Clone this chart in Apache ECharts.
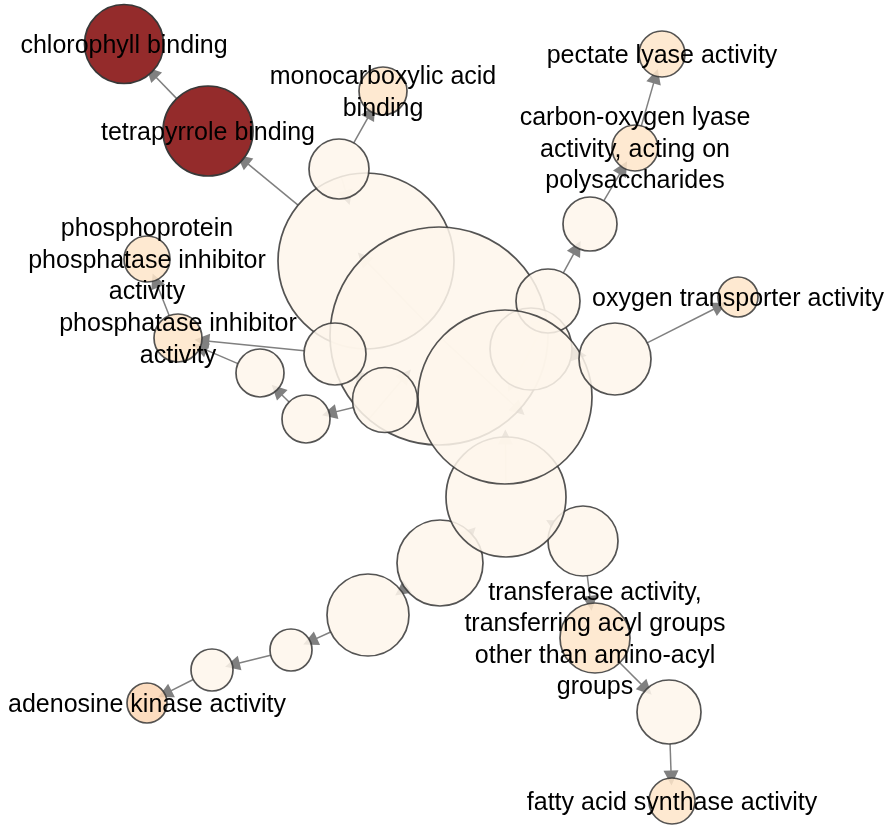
<!DOCTYPE html>
<html>
<head>
<meta charset="utf-8">
<script src="https://cdn.jsdelivr.net/npm/echarts@6/dist/echarts.min.js"></script>
<style>
  html, body { margin: 0; padding: 0; background: #fff; }
  #chart { width: 885px; height: 826px; }
</style>
</head>
<body>
<div id="chart"></div>
<script>
// nodes, in drawing order (later ones sit on top)
const nodeIds = ['A', 'B', 'E', 'F', 'D', 'P', 'O', 'C', 'Q', 'J', 'M', 'n4', 'K', 'L', 'R', 'G', 'H', 'I', 'n12',
  'tetra', 'chloro', 'monocarb', 'phosprot', 'phosinh', 'colyase', 'pectate', 'oxy', 'adenosine', 'transferase', 'fatty'];
const nodeLabels = ['', '', '', '', '', '', '', '', '', '', '', '', '', '', '', '', '', '', '',
  'tetrapyrrole binding', 'chlorophyll binding', 'monocarboxylic acid\nbinding',
  'phosphoprotein\nphosphatase inhibitor\nactivity', 'phosphatase inhibitor\nactivity',
  'carbon-oxygen lyase\nactivity, acting on\npolysaccharides', 'pectate lyase activity',
  'oxygen transporter activity', 'adenosine kinase activity',
  'transferase activity,\ntransferring acyl groups\nother than amino-acyl\ngroups', 'fatty acid synthase activity'];
const nodeX = [366, 439, 440, 583, 506, 531, 548, 505, 615, 335, 385, 339, 260, 306, 590, 368, 291, 212, 669,
  208, 124, 383, 147, 178, 635, 662, 738, 147, 595, 672];
const nodeY = [261, 336, 563, 541, 497, 349, 301, 397, 359, 354, 400, 169, 373, 419, 224, 615, 650, 670, 712,
  131, 44, 91, 259, 338, 148, 54, 297, 703, 638, 801];
const nodeSize = [176, 218, 86, 70, 120, 82, 64, 174, 72, 62, 65, 60, 48, 48, 54, 82, 42, 42, 64,
  90, 79, 48, 46, 48, 46, 46, 40, 40, 70, 46];
// 0 = not significant, 1 = weak, 2 = a bit stronger, 3 = strongest
const nodeLevel = [0, 0, 0, 0, 0, 0, 0, 0, 0, 0, 0, 0, 0, 0, 0, 0, 0, 0, 0,
  3, 3, 1, 1, 1, 1, 1, 1, 2, 1, 1];

const edgeFrom = ['tetra', 'A', 'n4', 'A', 'A', 'C', 'B', 'M', 'J', 'M', 'L', 'K', 'phosinh',
  'C', 'O', 'R', 'colyase', 'C', 'P', 'Q', 'C', 'D', 'E', 'G', 'H', 'I', 'D', 'F', 'transferase', 'n12'];
const edgeTo = ['chloro', 'tetra', 'monocarb', 'n4', 'B', 'B', 'M', 'J', 'phosinh', 'L', 'K', 'phosinh', 'phosprot',
  'O', 'R', 'colyase', 'pectate', 'P', 'Q', 'oxy', 'D', 'E', 'G', 'H', 'I', 'adenosine', 'F', 'transferase', 'n12', 'fatty'];

const levelColors = ['#fef6eb', '#fee5ca', '#fcd6b5', '#942b2b'];

const chart = echarts.init(document.getElementById('chart'));

const nodes = nodeIds.map((id, i) => ({
  name: id,
  value: [nodeX[i], nodeY[i]],
  symbolSize: nodeSize[i],
  itemStyle: {
    color: levelColors[nodeLevel[i]],
    opacity: nodeLevel[i] === 3 ? 1 : 0.86,
  },
  label: {
    show: nodeLabels[i] !== '',
    formatter: nodeLabels[i],
  },
}));

const links = edgeFrom.map((s, i) => ({ source: s, target: edgeTo[i] }));

chart.setOption({
  animation: false,
  backgroundColor: '#fff',
  grid: { left: 0, right: 0, top: 0, bottom: 0 },
  xAxis: { type: 'value', min: 0, max: 885, show: false },
  yAxis: { type: 'value', min: 0, max: 826, inverse: true, show: false },
  series: [
    {
      type: 'graph',
      coordinateSystem: 'cartesian2d',
      symbol: 'circle',
      data: nodes,
      links: links,
      // an invisible start symbol so the edge is cut at both node borders
      edgeSymbol: ['circle', 'triangle'],
      edgeSymbolSize: [0, 15],
      itemStyle: {
        borderColor: '#383838',
        borderWidth: 1.7,
      },
      lineStyle: {
        color: '#808080',
        width: 1.5,
        opacity: 1,
        curveness: 0,
      },
      label: {
        position: 'inside',
        offset: [0, 2],
        color: '#000',
        fontSize: 25,
        lineHeight: 31.5,
        fontFamily: "'Liberation Sans', Arial, sans-serif",
        align: 'center',
        opacity: 1,
      },
      emphasis: { disabled: true },
    },
  ],
});
</script>
</body>
</html>
